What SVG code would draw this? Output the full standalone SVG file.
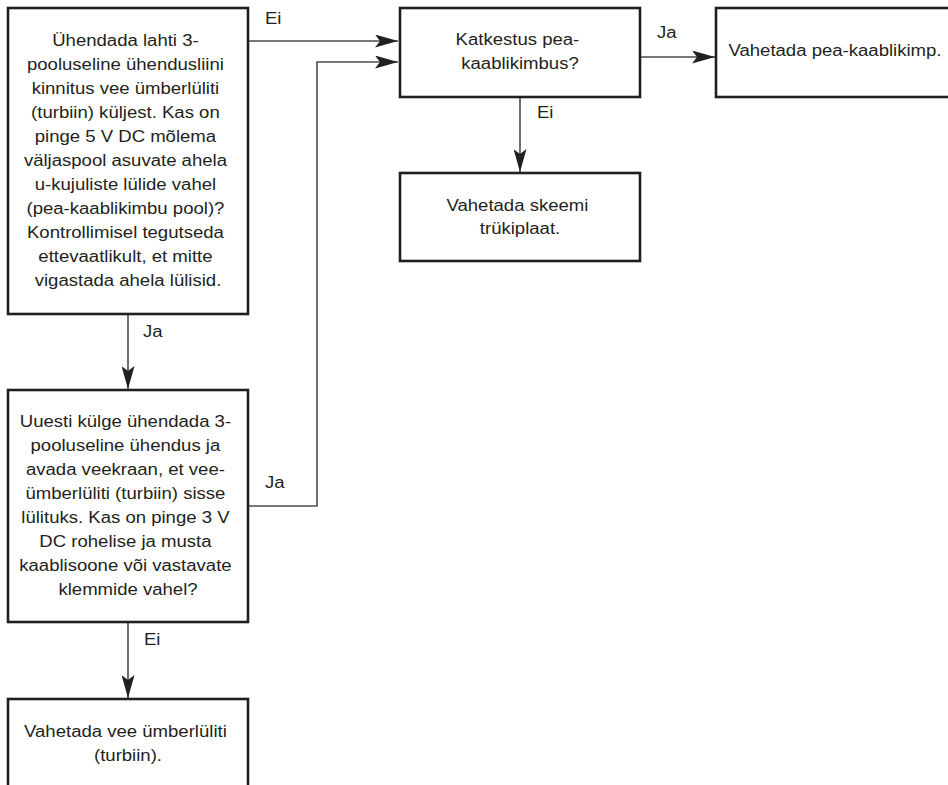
<svg xmlns="http://www.w3.org/2000/svg" width="948" height="785" viewBox="0 0 948 785">
<defs>
<style>
.box{fill:#fff;stroke:#231f20;stroke-width:2.6}
.t{font-family:"Liberation Sans",Arial,Helvetica,sans-serif;font-size:16px;fill:#231f20;text-anchor:middle}
.lbl{font-family:"Liberation Sans",Arial,Helvetica,sans-serif;font-size:16px;fill:#231f20}
.c{fill:none;stroke:#4d4d4d;stroke-width:1.6;marker-end:url(#ah)}
</style>
<marker id="ah" viewBox="0 0 23 13" refX="23" refY="6.5" markerWidth="23" markerHeight="13" markerUnits="userSpaceOnUse" orient="auto">
<path d="M0,0 L23,6.5 L0,13 L5,6.5 Z" fill="#231f20"/>
</marker>
</defs>
<rect width="948" height="785" fill="#fff"/>

<g id="connectors">
<path class="c" d="M248,41 H398"/>
<path class="c" d="M248,506 H317 V62 H398"/>
<path class="c" d="M128,314 V389"/>
<path class="c" d="M128,622 V698"/>
<path class="c" d="M640,57 H715"/>
<path class="c" d="M520,97 V172"/>
<text class="lbl" transform="translate(265 24) scale(1.16 1)">Ei</text>
<text class="lbl" transform="translate(265 488) scale(1.16 1)">Ja</text>
<text class="lbl" transform="translate(143 337) scale(1.16 1)">Ja</text>
<text class="lbl" transform="translate(144 645) scale(1.16 1)">Ei</text>
<text class="lbl" transform="translate(657 38) scale(1.16 1)">Ja</text>
<text class="lbl" transform="translate(537 118) scale(1.16 1)">Ei</text>
</g>

<g id="n1">
<rect class="box" x="8" y="8" width="240" height="306"/>
<text class="t" transform="translate(128 0) scale(1.16 1)">
<tspan x="0" y="46">Ühendada lahti 3-</tspan>
<tspan x="0" y="70">pooluseline ühendusliini</tspan>
<tspan x="0" y="94">kinnitus vee ümberlüliti</tspan>
<tspan x="0" y="118">(turbiin) küljest. Kas on</tspan>
<tspan x="0" y="142">pinge 5 V DC mõlema</tspan>
<tspan x="0" y="166">väljaspool asuvate ahela</tspan>
<tspan x="0" y="190">u-kujuliste lülide vahel</tspan>
<tspan x="0" y="214">(pea-kaablikimbu pool)?</tspan>
<tspan x="0" y="238">Kontrollimisel tegutseda</tspan>
<tspan x="0" y="262">ettevaatlikult, et mitte</tspan>
<tspan x="0" y="286">vigastada ahela lülisid.</tspan>
</text>
</g>

<g id="n2">
<rect class="box" x="8" y="390" width="240" height="232"/>
<text class="t" transform="translate(128 0) scale(1.16 1)">
<tspan x="0" y="427">Uuesti külge ühendada 3-</tspan>
<tspan x="0" y="451">pooluseline ühendus ja</tspan>
<tspan x="0" y="475">avada veekraan, et vee-</tspan>
<tspan x="0" y="499">ümberlüliti (turbiin) sisse</tspan>
<tspan x="0" y="523">lülituks. Kas on pinge 3 V</tspan>
<tspan x="0" y="547">DC rohelise ja musta</tspan>
<tspan x="0" y="571">kaablisoone või vastavate</tspan>
<tspan x="0" y="595">klemmide vahel?</tspan>
</text>
</g>

<g id="n3">
<rect class="box" x="8" y="699" width="240" height="100"/>
<text class="t" transform="translate(128 0) scale(1.16 1)">
<tspan x="0" y="737">Vahetada vee ümberlüliti</tspan>
<tspan x="0" y="761">(turbiin).</tspan>
</text>
</g>

<g id="n4">
<rect class="box" x="400" y="8" width="240" height="89"/>
<text class="t" transform="translate(520 0) scale(1.16 1)">
<tspan x="0" y="45">Katkestus pea-</tspan>
<tspan x="0" y="69">kaablikimbus?</tspan>
</text>
</g>

<g id="n5">
<rect class="box" x="716" y="8" width="240" height="89"/>
<text class="t" transform="translate(835 0) scale(1.16 1)">
<tspan x="0" y="56">Vahetada pea-kaablikimp.</tspan>
</text>
</g>

<g id="n6">
<rect class="box" x="400" y="173" width="240" height="88"/>
<text class="t" transform="translate(520 0) scale(1.16 1)">
<tspan x="0" y="211">Vahetada skeemi</tspan>
<tspan x="0" y="234">trükiplaat.</tspan>
</text>
</g>
</svg>
